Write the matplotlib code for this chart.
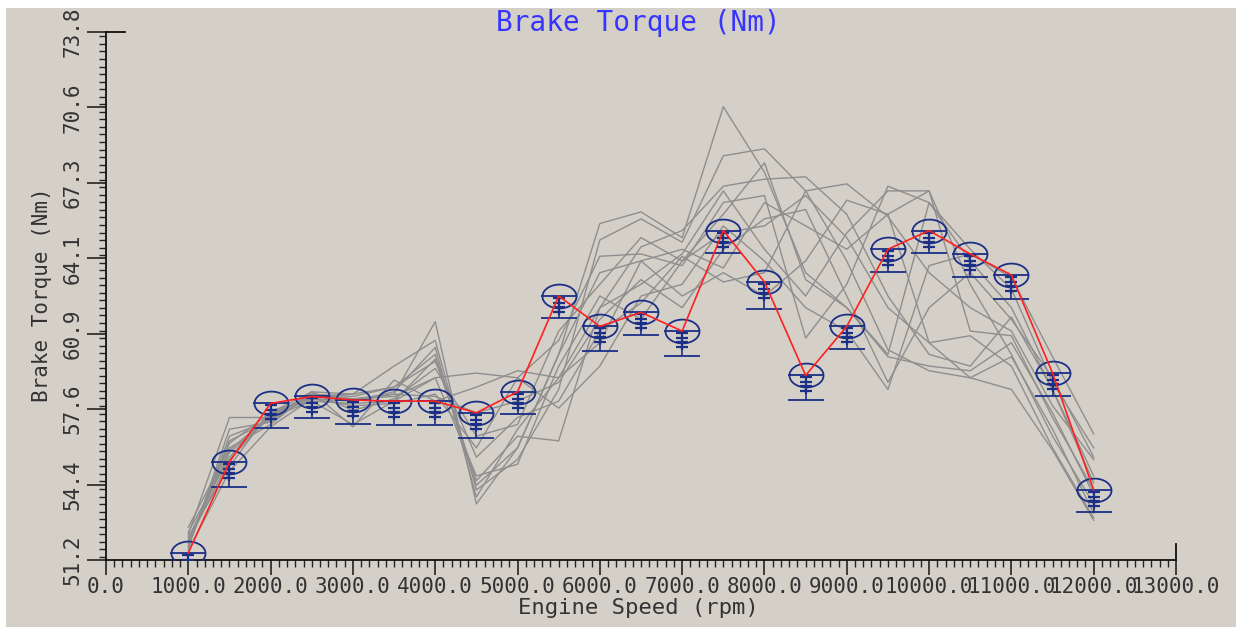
import numpy as np
import matplotlib
matplotlib.use("Agg")
import matplotlib.pyplot as plt
from matplotlib.path import Path
from matplotlib.patches import Rectangle
from matplotlib.lines import Line2D
from matplotlib.ticker import FixedLocator, MultipleLocator

# ---------------- data ----------------
rpm = [1000, 1500, 2000, 2500, 3000, 3500, 4000, 4500, 5000, 5500, 6000, 6500,
       7000, 7500, 8000, 8500, 9000, 9500, 10000, 10500, 11000, 11500, 12000]

mean_torque = [51.5, 55.4, 57.9, 58.2, 58.05, 58.0, 58.0, 57.5, 58.4, 62.5, 61.2, 61.8,
               61.0, 65.3, 63.1, 59.1, 61.2, 64.5, 65.3, 64.3, 63.4, 59.2, 54.2]

lower_err = [1.0, 1.07, 1.07, 0.94, 1.03, 1.03, 1.03, 1.07, 0.94, 0.94, 1.07, 0.98,
             1.07, 0.98, 1.16, 1.07, 0.98, 0.98, 0.94, 1.0, 1.03, 1.0, 0.94]
upper_err = [0.0] * len(rpm)

run_01 = [52.0, 55.8, 57.3, 58.3, 58.0, 58.3, 61.4, 53.6, 56.0, 60.0, 65.6, 66.1, 65.0, 70.6, 67.8, 63.5, 62.0, 59.9, 59.5, 59.3, 60.5, 57.5, 54.0]
run_02 = [51.8, 56.5, 57.2, 58.2, 58.3, 59.5, 60.6, 54.2, 55.5, 58.5, 64.9, 65.8, 64.8, 68.5, 68.8, 67.0, 64.0, 60.2, 59.3, 59.0, 59.9, 56.8, 53.2]
run_03 = [52.3, 57.3, 57.3, 58.0, 57.0, 58.0, 59.8, 54.6, 56.5, 56.3, 62.0, 64.6, 65.3, 67.2, 67.5, 67.6, 66.0, 62.5, 60.0, 59.5, 61.6, 58.5, 54.8]
run_04 = [52.6, 56.0, 57.0, 58.4, 58.3, 58.6, 59.7, 55.6, 57.3, 58.0, 61.0, 62.2, 64.2, 63.1, 63.5, 67.0, 67.3, 65.9, 63.5, 62.0, 61.0, 57.8, 55.5]
run_05 = [51.6, 55.0, 56.9, 58.1, 57.8, 57.9, 58.3, 56.0, 59.0, 60.6, 64.2, 64.3, 63.8, 66.5, 66.8, 60.7, 63.0, 67.2, 66.5, 64.0, 62.0, 58.5, 54.5]
run_06 = [52.0, 55.5, 57.4, 58.3, 58.1, 58.2, 59.0, 59.2, 59.0, 57.7, 59.5, 62.5, 63.0, 65.5, 64.0, 62.0, 61.0, 58.5, 63.8, 64.3, 63.3, 59.9, 56.6]
run_07 = [51.9, 56.2, 57.5, 58.4, 56.9, 58.9, 58.0, 58.6, 59.3, 59.0, 60.5, 64.0, 64.5, 63.7, 66.5, 65.5, 64.5, 66.0, 67.0, 63.0, 60.0, 56.5, 53.6]
run_08 = [52.2, 55.2, 57.6, 58.0, 57.9, 58.0, 59.0, 54.8, 55.3, 59.5, 62.5, 61.5, 64.0, 65.2, 65.5, 66.8, 65.0, 62.0, 60.5, 60.8, 59.5, 56.0, 53.0]
run_09 = [51.7, 56.8, 57.1, 58.3, 58.2, 58.6, 60.0, 54.4, 56.0, 60.0, 63.5, 64.0, 62.5, 63.5, 62.5, 64.0, 66.6, 66.0, 60.5, 59.0, 58.5, 55.9, 52.9]
run_10 = [52.4, 55.6, 57.5, 58.1, 58.0, 58.4, 60.3, 53.9, 56.8, 59.0, 62.0, 63.0, 64.3, 67.0, 64.5, 62.5, 65.2, 67.0, 67.0, 61.0, 60.8, 57.3, 54.2]
run_11 = [51.8, 56.3, 57.2, 58.4, 57.6, 58.1, 59.4, 56.5, 57.0, 61.0, 63.0, 65.0, 64.0, 66.0, 68.2, 63.2, 62.0, 60.0, 66.5, 64.5, 62.8, 58.8, 56.0]
run_12 = [52.1, 55.9, 57.4, 58.2, 58.1, 58.3, 58.2, 57.5, 58.0, 58.8, 61.5, 63.2, 62.0, 64.5, 65.8, 66.2, 62.5, 58.8, 62.0, 63.5, 61.5, 59.0, 55.6]
runs = [run_01, run_02, run_03, run_04, run_05, run_06,
        run_07, run_08, run_09, run_10, run_11, run_12]

x_ticks = [0, 1000, 2000, 3000, 4000, 5000, 6000, 7000, 8000, 9000, 10000, 11000, 12000, 13000]
x_tick_labels = ["0.0", "1000.0", "2000.0", "3000.0", "4000.0", "5000.0", "6000.0",
                 "7000.0", "8000.0", "9000.0", "10000.0", "11000.0", "12000.0", "13000.0"]
y_ticks = [51.2, 54.43, 57.66, 60.89, 64.11, 67.34, 70.57, 73.8]
y_tick_labels = ["51.2", "54.4", "57.6", "60.9", "64.1", "67.3", "70.6", "73.8"]

# ---------------- style ----------------
BG = "#d4d0c8"
NAVY = "#1c2f86"
TXT = "#333333"
FONT = "DejaVu Sans Mono"

fig = plt.figure(figsize=(12.36, 6.37), dpi=100, facecolor="white")
fig.patches.append(Rectangle((6 / 1236, 10 / 637), 1230 / 1236, 619 / 637,
                             transform=fig.transFigure, facecolor=BG,
                             edgecolor="none", zorder=-10))
ax = fig.add_axes([106 / 1236, 77 / 637, 1070 / 1236, 528 / 637])
ax.set_facecolor("none")

for r in runs:
    ax.plot(rpm, r, color="#8e8e8e", lw=1.0, zorder=2)

# error bars (lower only, cap through mean)
ax.errorbar(rpm, mean_torque, yerr=[lower_err, upper_err], fmt="none",
            ecolor=NAVY, elinewidth=1.2, capsize=13, capthick=1.3, zorder=3)

# stacked dash markers
verts, codes = [(0, 0), (0, -1)], [Path.MOVETO, Path.LINETO]
for yy in (-0.12, -0.36, -0.6, -0.84):
    verts += [(-0.3, yy), (0.3, yy)]
    codes += [Path.MOVETO, Path.LINETO]
stack = Path(verts, codes)
ax.plot(rpm, mean_torque, ls="none", marker=stack, ms=27, mfc="none",
        mec=NAVY, mew=1.6, zorder=4)

# elliptical open circles at the mean
t = np.linspace(0, 2 * np.pi, 73)
ell = Path(np.column_stack([np.cos(t), 0.7 * np.sin(t)]), closed=True)
ax.plot(rpm, mean_torque, ls="none", marker=ell, ms=24.5, mfc="none",
        mec=NAVY, mew=1.3, zorder=5)

ax.plot(rpm, mean_torque, color="#ff2020", lw=1.2, zorder=6)

ax.set_xlim(0, 13000)
ax.set_ylim(51.2, 73.8)
for s in ("top", "right"):
    ax.spines[s].set_visible(False)
for s in ("left", "bottom"):
    ax.spines[s].set_linewidth(1.3)
    ax.spines[s].set_color("#111111")

ax.xaxis.set_major_locator(FixedLocator(x_ticks))
ax.xaxis.set_minor_locator(MultipleLocator(100))
ax.set_xticklabels(x_tick_labels)
ax.yaxis.set_major_locator(FixedLocator(y_ticks))
ax.yaxis.set_minor_locator(MultipleLocator((73.8 - 51.2) / 70))
ax.set_yticklabels(y_tick_labels, rotation=90, va="center")

ax.tick_params(axis="x", which="major", length=11, width=1.2, pad=1, labelsize=15, colors="#222222")
ax.tick_params(axis="x", which="minor", length=5, width=1.0, colors="#222222")
ax.tick_params(axis="y", which="major", length=14, width=1.2, pad=3, labelsize=15, colors="#222222")
ax.tick_params(axis="y", which="minor", length=5, width=1.0, colors="#222222")
for lab in ax.get_xticklabels() + ax.get_yticklabels():
    lab.set_family(FONT)
    lab.set_color(TXT)

ax.add_line(Line2D([0, 0.018], [1, 1], transform=ax.transAxes, color="#111111",
                   lw=1.3, clip_on=False))
ax.add_line(Line2D([1, 1], [0, 0.03], transform=ax.transAxes, color="#111111",
                   lw=1.3, clip_on=False))

fig.text(638 / 1236, 1 - 23 / 637, "Brake Torque (Nm)", color="#3535ff",
         ha="center", va="center", fontsize=20, family=FONT)
fig.text(638 / 1236, 1 - 608 / 637, "Engine Speed (rpm)", color=TXT,
         ha="center", va="center", fontsize=16, family=FONT)
fig.text(42 / 1236, 1 - 295 / 637, "Brake Torque (Nm)", color=TXT,
         ha="center", va="center", rotation=90, fontsize=15, family=FONT)

fig.savefig("out.png", dpi=100, facecolor="white")
